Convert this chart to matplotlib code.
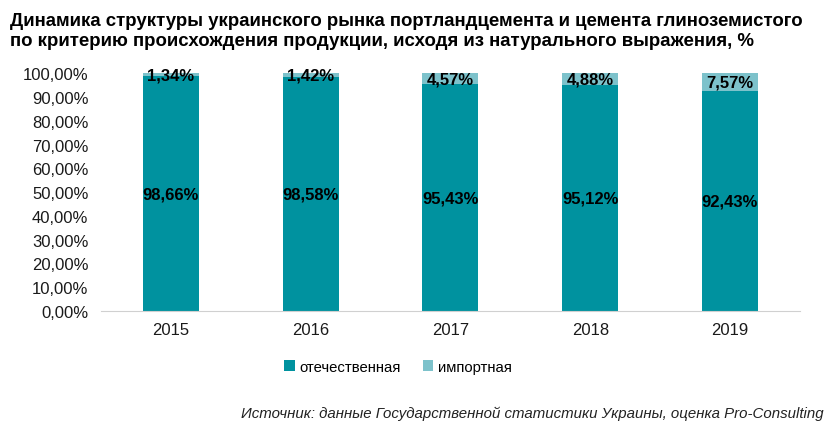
import matplotlib
matplotlib.use("Agg")
import matplotlib.pyplot as plt
from matplotlib.ticker import FuncFormatter

years = ["2015", "2016", "2017", "2018", "2019"]
domestic = [98.66, 98.58, 95.43, 95.12, 92.43]
imported = [1.34, 1.42, 4.57, 4.88, 7.57]
series_names = ["отечественная", "импортная"]

c_dom = "#00929F"
c_imp = "#7DC2CB"

plt.rcParams["font.family"] = ["Liberation Sans", "DejaVu Sans"]

fig = plt.figure(figsize=(8.38, 4.31), dpi=100)
ax = fig.add_axes([0.1205, 0.276, 0.834, 0.552])

x = list(range(len(years)))
w = 0.4
ax.bar(x, domestic, w, color=c_dom, label=series_names[0])
ax.bar(x, imported, w, bottom=domestic, color=c_imp, label=series_names[1])

for i in x:
    ax.text(i, domestic[i] / 2, f"{domestic[i]:.2f}%".replace(".", ","),
            ha="center", va="center", fontsize=12, fontweight="bold", color="black")
    ax.text(i, domestic[i] + imported[i] / 2, f"{imported[i]:.2f}%".replace(".", ","),
            ha="center", va="center", fontsize=12, fontweight="bold", color="black")

ax.set_xlim(-0.5, len(years) - 0.5)
ax.set_ylim(0, 100)
ax.set_yticks(range(0, 101, 10))
ax.yaxis.set_major_formatter(FuncFormatter(lambda v, p: f"{v:.2f}%".replace(".", ",")))
ax.set_xticks(x)
ax.set_xticklabels(years)
ax.tick_params(axis="both", length=0, labelsize=12, colors="#1a1a1a")
ax.tick_params(axis="y", pad=9)
ax.tick_params(axis="x", pad=8)
for s in ["top", "right", "left"]:
    ax.spines[s].set_visible(False)
ax.spines["bottom"].set_color("#D0D0D0")

fig.text(0.012, 0.97, "Динамика структуры украинского рынка портландцемента и цемента глиноземистого\nпо критерию происхождения продукции, исходя из натурального выражения, %",
         ha="left", va="top", fontsize=13.4, fontweight="bold", linespacing=1.2)

fig.legend(loc="center", bbox_to_anchor=(0.475, 0.147), ncol=2, frameon=False,
           fontsize=10.7, handlelength=0.7, handleheight=0.7, handletextpad=0.3, columnspacing=1.5)

fig.text(0.983, 0.04, "Источник: данные Государственной статистики Украины, оценка Pro-Consulting",
         ha="right", va="center", fontsize=10.8, style="italic", color="#222222")

fig.savefig("out.png", dpi=100)
